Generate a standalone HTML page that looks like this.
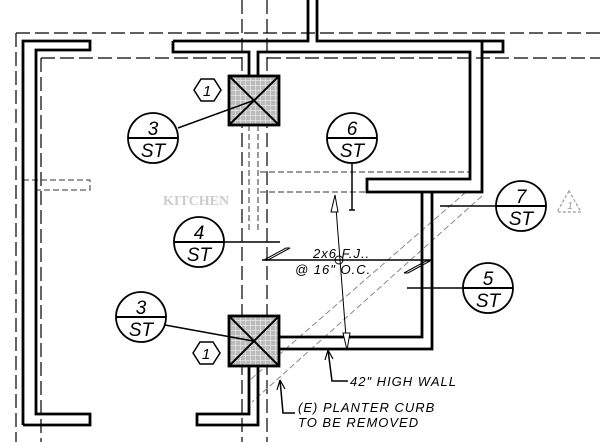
<!DOCTYPE html>
<html><head><style>html,body{margin:0;padding:0;background:#fff}svg{display:block}</style></head><body>
<svg width="600" height="442" viewBox="0 0 600 442" xmlns="http://www.w3.org/2000/svg" font-family="Liberation Sans, sans-serif">
<defs>
<pattern id="g" width="5" height="5" patternUnits="userSpaceOnUse"><rect width="5" height="5" fill="#bbb"/><path d="M0 0H5M0 0V5" stroke="#eee" stroke-width="1.2"/></pattern>
</defs>
<g stroke="#000" stroke-width="1.2" fill="none" stroke-dasharray="14,5">
<path d="M16 33H600M16 33V442M41 58H242M267 58H600M41 58V442M242 0V442M267 0V442"/>
</g>
<g stroke="#333" stroke-width="1" fill="none" stroke-dasharray="6,3">
<path d="M23 180H90V190H36M260 172H470M260 192H367M249 125V230M258 125V230"/>
</g>
<g stroke="#888" stroke-width="1" fill="none" stroke-dasharray="6,3">
<path d="M466 192L250 380M482 196L252 402"/>
</g>
<g stroke="#000" stroke-width="2.8" fill="none" stroke-linejoin="miter">
<path d="M23 425V41H90V50H36V414H90V425H23"/>
<path d="M173 41H308V0M317 0V41H482V192H367V179H470V52H258V76M249 76V52H173V41"/>
<path d="M482 41H503V52H482"/>
<path d="M249 366V414H197V425H258V366"/>
<path d="M279 337H422V192M279 349H432V192"/>
</g>
<g stroke="#000" stroke-width="2.8">
<rect x="229" y="76" width="50" height="49" fill="url(#g)"/>
<path d="M229 76L279 125M279 76L229 125" stroke-width="2"/>
<rect x="229" y="316" width="50" height="50" fill="url(#g)"/>
<path d="M229 316L279 366M279 316L229 366" stroke-width="2"/>
</g>
<g stroke="#000" stroke-width="1.5" fill="none">
<path d="M178 128L255 100M352 163V210M349 210H355M440 206H546M407 288H513M174 242H280M165 325L253 341"/>
<path d="M262 260H432"/>
<path d="M264 260L286 248H290L268 260Z M404 273L426 261H430L408 273Z" stroke-width="1"/>
<path d="M335 195L347 350" stroke-width="1"/>
<path d="M335 195L331 212H338Z M347 350L343 333H350Z" fill="#fff" stroke-width="1"/>
<circle cx="339" cy="260" r="4" fill="none" stroke-width="1"/>
<path d="M328 350L332 381H348M280 380L283 413H295" stroke-width="1.5"/>
<path d="M328 350L325 360M328 350L333 359M280 380L277 390M280 380L285 389" stroke-width="1.2"/>
</g>
<g stroke="#000" stroke-width="1.8" fill="#fff">
<circle cx="153" cy="138" r="25"/><circle cx="352" cy="138" r="25"/>
<circle cx="521" cy="206" r="25"/><circle cx="488" cy="288" r="25"/>
<circle cx="199" cy="242" r="25"/><circle cx="141" cy="317" r="25"/>
</g>
<g stroke="#000" stroke-width="2"><path d="M128 138H178M327 138H377M496 206H546M463 288H513M174 242H224M116 317H166"/></g>
<g font-style="italic" font-size="19" text-anchor="middle" fill="#000">
<text x="153" y="135">3</text><text x="153" y="157">ST</text>
<text x="352" y="135">6</text><text x="352" y="157">ST</text>
<text x="521" y="203">7</text><text x="521" y="225">ST</text>
<text x="488" y="285">5</text><text x="488" y="307">ST</text>
<text x="199" y="239">4</text><text x="199" y="261">ST</text>
<text x="141" y="314">3</text><text x="141" y="336">ST</text>
</g>
<g stroke="#000" stroke-width="1.5" fill="#fff">
<path d="M194 90L201 79H214L221 90L214 101H201Z"/>
<path d="M193 353L200 342H213L220 353L213 364H200Z"/>
</g>
<g font-style="italic" font-size="15" text-anchor="middle"><text x="207" y="96">1</text><text x="206" y="359">1</text></g>
<path d="M569 191L557 212H581Z" fill="none" stroke="#999" stroke-width="1.2" stroke-dasharray="3,2"/>
<text x="570" y="209" font-size="10" font-style="italic" fill="#999" text-anchor="middle">1</text>
<text x="163" y="205" font-family="Liberation Serif, serif" font-weight="bold" font-size="14" fill="#ccc">KITCHEN</text>
<g font-style="italic" font-size="13" fill="#000" letter-spacing="1">
<text x="313" y="258">2x6 F.J..</text>
<text x="295" y="274">@ 16" O.C.</text>
<text x="350" y="386">42" HIGH WALL</text>
<text x="298" y="412">(E) PLANTER CURB</text>
<text x="298" y="427">TO BE REMOVED</text>
</g>
</svg>
</body></html>
